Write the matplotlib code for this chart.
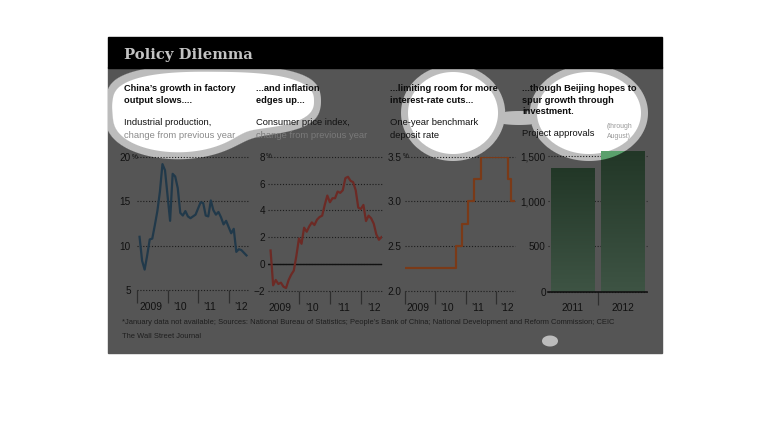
"""Recreate the dimmed 'Policy Dilemma' four-panel graphic."""

import matplotlib

matplotlib.use("Agg")
import matplotlib.pyplot as plt
import numpy as np
from matplotlib import font_manager
from matplotlib.colors import LinearSegmentedColormap
from matplotlib.patches import Rectangle

W, H = 770, 448

# industrial production, % change from previous year (month index from Jan 2009, no January data)
IP_MONTHS = [1, 2, 3, 4, 5, 6, 7, 8, 9, 10, 11,
             13, 14, 15, 16, 17, 18, 19, 20, 21, 22, 23,
             25, 26, 27, 28, 29, 30, 31, 32, 33, 34, 35,
             37, 38, 39, 40, 41, 42, 43]
IP_VALUES = [11.0, 8.3, 7.3, 8.9, 10.7, 10.8, 12.3, 13.9, 16.1, 19.2, 18.5,
             12.8, 18.1, 17.8, 16.5, 13.7, 13.4, 13.9, 13.3, 13.1, 13.3, 13.5,
             14.9, 14.8, 13.4, 13.3, 15.1, 14.0, 13.5, 13.8, 13.2, 12.4, 12.8,
             11.4, 11.9, 9.3, 9.6, 9.5, 9.2, 8.9]

# consumer price index, % change from previous year (Jan 2009 .. Aug 2012)
CPI_MONTHS = [1, 2, 3, 4, 5, 6, 7, 8, 9, 10, 11, 12,
              13, 14, 15, 16, 17, 18, 19, 20, 21, 22, 23, 24,
              25, 26, 27, 28, 29, 30, 31, 32, 33, 34, 35, 36,
              37, 38, 39, 40, 41, 42, 43, 44]
CPI_VALUES = [1.0, -1.6, -1.2, -1.5, -1.4, -1.7, -1.8, -1.2, -0.8, -0.5, 0.6, 1.9,
              1.5, 2.7, 2.4, 2.8, 3.1, 2.9, 3.3, 3.5, 3.6, 4.4, 5.1, 4.6,
              4.9, 4.9, 5.4, 5.3, 5.5, 6.4, 6.5, 6.2, 6.1, 5.5, 4.2, 4.1,
              4.4, 3.2, 3.6, 3.4, 3.0, 2.2, 1.8, 2.0]

# one-year benchmark deposit rate, step changes
RATE_MONTHS = [0, 20.2, 22.5, 25.0, 27.4, 30.0, 41.0, 42.2, 43.3]
RATE_VALUES = [2.25, 2.50, 2.75, 3.00, 3.25, 3.50, 3.25, 3.00, 3.00]

# project approvals (through August)
PROJECT_YEARS = ["2011", "2012"]
PROJECT_VALUES = [1370, 1550]

YEAR_LABELS = ["2009", "\u201910", "\u201911", "\u201912"]

BLUE = "#21394a"
RED = "#6c2a25"
ORANGE = "#7a3a18"
PANEL = "#555555"
HALO = (188, 188, 188)
BAR_LIT = (90, 160, 108)
GRID = "#1c1c1c"

_names = {f.name for f in font_manager.fontManager.ttflist}
NARROW = "Liberation Sans Narrow" if "Liberation Sans Narrow" in _names else "Liberation Sans"
FS = 1.0 if NARROW == "Liberation Sans Narrow" else 0.86

# spotlight blobs: (cx, cy, rx, ry, exponent) in pixels
WHITE_SHAPES = [(214, 101, 100, 29, 2.6), (178, 122, 62, 30, 2.0),
                (453, 113, 45, 41, 2.0), (589, 113, 52, 41, 2.0)]
HALO_ONLY = [(519, 118, 30, 7, 2.0), (550, 341, 8, 5.5, 2.0)]


def px_axes(fig, left, top, right, bottom):
    """Add axes placed by pixel edges (y measured from top)."""
    return fig.add_axes([left / W, 1 - bottom / H, (right - left) / W, (bottom - top) / H])


def shape_dist(xx, yy, cx, cy, rx, ry, p):
    """Approximate signed pixel distance to a superellipse outline."""
    ax_, ay_ = np.abs(xx - cx) / rx, np.abs(yy - cy) / ry
    r = (ax_**p + ay_**p) ** (1 / p)
    rs = np.maximum(r, 1e-6)
    gx = rs ** (1 - p) * ax_ ** (p - 1) / rx
    gy = rs ** (1 - p) * ay_ ** (p - 1) / ry
    g = np.sqrt(gx**2 + gy**2)
    return np.clip((r - 1) / np.maximum(g, 1e-6), -200, 400)


def soft_min(ds, k=7.0):
    """Smooth union of distance fields, fills the notches between shapes."""
    ds = np.array(ds)
    m = ds.min(axis=0)
    return m - k * np.log(np.exp(-(ds - m) / k).sum(axis=0))


def blob_masks():
    """Coverage of the white spotlight blobs and of their grey rims."""
    yy, xx = np.mgrid[0:H, 0:W] + 0.5
    d_white = soft_min([shape_dist(xx, yy, *s) for s in WHITE_SHAPES])
    d_halo = np.minimum(d_white - 7,
                        np.min([shape_dist(xx, yy, *s) for s in HALO_ONLY], axis=0))
    white = np.clip(0.5 - d_white, 0, 1)
    halo = np.clip(0.5 - d_halo, 0, 1)
    inside = (xx > 108) & (xx < 662) & (yy < 353)
    halo = np.where(inside, halo, 0)
    white = np.minimum(white, halo)
    return xx, yy, white, halo


def blob_image(white, halo):
    """RGBA layer holding the white blobs with their grey rims."""
    img = np.zeros((H, W, 4))
    safe = np.maximum(halo, 1e-6)
    for c in range(3):
        img[..., c] = (white * 255 + (halo - white) * HALO[c]) / safe / 255
    img[..., 3] = halo
    return img


def style_axes(ax, yticks, ylabels, pad):
    """Shared look of the small panels."""
    ax.set_facecolor("none")
    for s in ax.spines.values():
        s.set_visible(False)
    ax.set_yticks(yticks)
    ax.set_yticklabels(ylabels)
    ax.tick_params(axis="y", length=0, pad=pad, labelsize=8.4 * FS, labelcolor="#111111")
    ax.yaxis.grid(True, linestyle=(0, (1, 1.6)), color=GRID, lw=0.8)
    for line in ax.get_ygridlines():
        line.set_clip_on(False)
    ax.set_axisbelow(True)


def year_axis(ax, ticks, label_pos):
    """Year boundary ticks with labels placed between them."""
    ax.set_xticks(ticks)
    ax.set_xticklabels([])
    ax.set_xticks(label_pos, minor=True)
    ax.set_xticklabels(YEAR_LABELS, minor=True)
    ax.tick_params(axis="x", which="major", length=9.5, width=0.9, color="#2e2e2e", direction="out")
    ax.tick_params(axis="x", which="minor", length=0, pad=8.5, labelsize=8.6 * FS, labelcolor="#111111")


def pct_mark(ax, y, pad_px):
    """Small percent sign after the top tick label."""
    ax.annotate("%", xy=(0, y), xycoords=("axes fraction", "data"),
                xytext=(-pad_px + 0.5, 0), textcoords="offset pixels",
                ha="left", va="center", fontsize=5.5 * FS, color="#111111")


def main() -> None:
    """Run main routine."""
    plt.rcParams["font.family"] = [NARROW, "DejaVu Sans"]
    fig = plt.figure(figsize=(W / 100, H / 100), dpi=100)
    xx, yy, white, halo = blob_masks()

    bg = fig.add_axes([0, 0, 1, 1])
    bg.set_zorder(-1)
    bg.set_xlim(0, W)
    bg.set_ylim(H, 0)
    bg.axis("off")
    bg.add_patch(Rectangle((108, 67), 554, 286, color=PANEL, zorder=1))
    bg.imshow(blob_image(white, halo), extent=(0, W, H, 0), interpolation="nearest", zorder=2)
    bg.add_patch(Rectangle((108, 37), 554, 30.5, color="black", zorder=3))
    bg.text(123.5, 55, "Policy Dilemma", family="DejaVu Serif", weight="bold",
            fontsize=10.6, color="#c3c3c3", va="center", zorder=4)

    heads = [
        (123.5, ["China\u2019s growth in factory", "output slows...."]),
        (256, ["...and inflation", "edges up..."]),
        (389.5, ["...limiting room for more", "interest-rate cuts..."]),
        (522, ["...though Beijing hopes to", "spur growth through", "investment."]),
    ]
    for x, lines in heads:
        for i, line in enumerate(lines):
            bg.text(x, 88.3 + 11.8 * i, line, weight="bold", fontsize=7.8 * FS,
                    color="#0c0c0c", va="center", zorder=4)
    subs = [
        (123.5, 122.7, "Industrial production,", "#111111"),
        (123.5, 135, "change from previous year", "#8a8a8a"),
        (256, 122.7, "Consumer price index,", "#111111"),
        (256, 135, "change from previous year", "#7a7a7a"),
        (389.5, 122.7, "One-year benchmark", "#111111"),
        (389.5, 135, "deposit rate", "#111111"),
        (522, 133.5, "Project approvals", "#111111"),
    ]
    for x, y, s, c in subs:
        bg.text(x, y, s, fontsize=7.9 * FS, color=c, va="center", zorder=4)
    bg.text(606.5, 126.5, "(through", fontsize=5.8 * FS, color="#9a9a9a", va="center", zorder=4)
    bg.text(606.5, 136.5, "August)", fontsize=5.8 * FS, color="#9a9a9a", va="center", zorder=4)

    bg.text(122, 323, "*January data not available; Sources: National Bureau of Statistics; "
            "People\u2019s Bank of China; National Development and Reform Commission; CEIC",
            fontsize=6.3 * FS, color="#1e1e1e", va="center", zorder=4)
    bg.text(122, 336, "The Wall Street Journal", fontsize=6.3 * FS, color="#1e1e1e",
            va="center", zorder=4)

    # industrial production
    ax = px_axes(fig, 137, 157, 248, 290)
    ax.plot(IP_MONTHS, IP_VALUES, color=BLUE, lw=1.6, solid_joinstyle="round", zorder=3)
    ax.set_xlim(0, 43.6)
    ax.set_ylim(5, 20)
    style_axes(ax, [5, 10, 15, 20], ["5", "10", "15", "20"], 4.5)
    pct_mark(ax, 20, 6)
    year_axis(ax, [0, 12, 24, 36], [5.6, 16.9, 28.7, 40.9])

    # consumer prices
    ax = px_axes(fig, 268, 156.7, 382, 290.7)
    ax.plot(CPI_MONTHS, CPI_VALUES, color=RED, lw=1.6, solid_joinstyle="round", zorder=3)
    ax.axhline(0, color="#111111", lw=1.0, zorder=2)
    ax.set_xlim(0, 44.2)
    ax.set_ylim(-2, 8)
    style_axes(ax, [-2, 0, 2, 4, 6, 8], ["\u22122", "0", "2", "4", "6", "8"], 2.2)
    pct_mark(ax, 8, 2.5)
    year_axis(ax, [12, 24, 36], [4.8, 17.0, 29.3, 41.3])

    # deposit rate
    ax = px_axes(fig, 405, 156.7, 515, 290.7)
    ax.plot(RATE_MONTHS, RATE_VALUES, color=ORANGE, lw=1.6, drawstyle="steps-post", zorder=3)
    ax.set_xlim(0, 43.6)
    ax.set_ylim(2.0, 3.5)
    style_axes(ax, [2.0, 2.5, 3.0, 3.5], ["2.0", "2.5", "3.0", "3.5"], 2.6)
    pct_mark(ax, 3.5, 2.5)
    year_axis(ax, [0, 12, 24, 36], [5.3, 16.8, 28.7, 40.4])

    # project approvals
    ax = px_axes(fig, 548.3, 156, 647.3, 291.7)
    style_axes(ax, [0, 500, 1000, 1500], ["0", "500", "1,000", "1,500"], 1.8)
    bars = ax.bar([0, 1], PROJECT_VALUES, width=0.86, facecolor="none", edgecolor="none", zorder=2)
    cmap = LinearSegmentedColormap.from_list("bar", ["#223727", "#3e5444"])
    grad = np.linspace(0, 1, 256).reshape(-1, 1)
    for patch in bars:
        x0, w, h = patch.get_x(), patch.get_width(), patch.get_height()
        im = ax.imshow(grad, extent=(x0, x0 + w, 0, h), origin="upper", cmap=cmap,
                       aspect="auto", zorder=2)
        im.set_clip_path(patch)
    ax.axhline(0, color="#111111", lw=1.2, zorder=3, clip_on=False)
    ax.set_xlim(-0.48, 1.48)
    ax.set_ylim(0, 1500)
    ax.set_xticks([0.5])
    ax.set_xticklabels([])
    ax.set_xticks([0, 1], minor=True)
    ax.set_xticklabels(PROJECT_YEARS, minor=True)
    ax.tick_params(axis="x", which="major", length=9.5, width=0.9, color="#2e2e2e")
    ax.tick_params(axis="x", which="minor", length=0, pad=8, labelsize=8.6 * FS, labelcolor="#111111")

    # bar tops that sit under the spotlight rim look lighter
    fig.canvas.draw()
    lit = np.zeros((H, W, 4))
    for patch in bars:
        bb = patch.get_window_extent()
        in_bar = (xx >= bb.x0) & (xx <= bb.x1) & (yy >= H - bb.y1) & (yy <= H - bb.y0)
        cover = np.where(in_bar, halo, 0)
        for c in range(3):
            lit[..., c] = np.where(in_bar, BAR_LIT[c] / 255, lit[..., c])
        lit[..., 3] = np.maximum(lit[..., 3], cover)
    ov = fig.add_axes([0, 0, 1, 1])
    ov.set_zorder(5)
    ov.set_xlim(0, W)
    ov.set_ylim(H, 0)
    ov.axis("off")
    ov.imshow(lit, extent=(0, W, H, 0), interpolation="nearest")

    fig.savefig("out.png", dpi=100, facecolor="white")


if __name__ == "__main__":
    main()
